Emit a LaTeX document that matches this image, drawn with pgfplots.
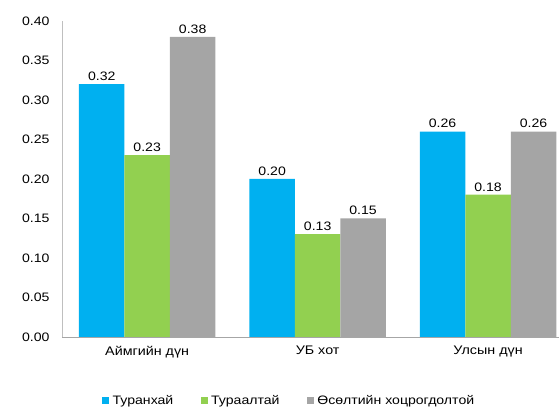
\documentclass[border=0pt]{standalone}
\usepackage{pgfplots}
\pgfplotsset{compat=1.18}
\usepackage{fontspec}
\setmainfont[FakeStretch=1.15]{Liberation Sans}
\definecolor{cblue}{HTML}{00B0F0}
\definecolor{cgreen}{HTML}{92D050}
\definecolor{cgray}{HTML}{A5A5A5}
\definecolor{yline}{HTML}{BFBFBF}
\definecolor{xline}{HTML}{A6A6A6}
\begin{document}
\begin{tikzpicture}
\begin{axis}[
  scale only axis,
  width=497bp, height=316bp,
  ybar=0pt, bar width=45.5bp,
  xmin=-0.5, xmax=2.415,
  ymin=0, ymax=0.4,
  ytick={0,0.05,0.1,0.15,0.2,0.25,0.3,0.35,0.4},
  xtick={0,1,2},
  xticklabels={Аймгийн дүн, УБ хот, Улсын дүн},
  axis x line*=bottom, axis y line*=left,
  x axis line style={draw=xline, -},
  y axis line style={draw=yline, -},
  major tick length=0pt,
  yticklabel style={font=\fontsize{12.3}{14}\selectfont, xshift=-9bp},
  xticklabel style={font=\fontsize{12.5}{14}\selectfont, yshift=-6bp},
  /pgf/number format/assume math mode=true,
  yticklabel={\pgfmathprintnumber[fixed, fixed zerofill, precision=2]{\tick}},
  nodes near coords,
  nodes near coords style={font=\fontsize{12.3}{14}\selectfont,
    /pgf/number format/.cd, fixed, fixed zerofill, precision=2, assume math mode=true},
  legend style={at={(0.459,-0.2025)}, anchor=center, draw=none,
    font=\fontsize{12.3}{14}\selectfont, legend columns=3,
    /tikz/every even column/.append style={column sep=24bp},
    nodes={inner xsep=3.5bp}},
  legend image code/.code={\fill[#1] (0bp,-3.4bp) rectangle (6.8bp,3.4bp);},
]
\addplot[draw=none, fill=cblue] coordinates {(0,0.32) (1,0.20) (2,0.26)};
\addplot[draw=none, fill=cgreen] coordinates {(0,0.23) (1,0.13) (2,0.18)};
\addplot[draw=none, fill=cgray] coordinates {(0,0.38) (1,0.15) (2,0.26)};
\legend{Туранхай, Тураалтай, Өсөлтийн хоцрогдолтой}
\end{axis}
\path (current axis.south west) ++(-62bp,-69bp) coordinate (bl);
\path (current axis.north east) ++(0bp,21bp) coordinate (tr);
\useasboundingbox (bl) rectangle (tr);
\end{tikzpicture}
\end{document}
